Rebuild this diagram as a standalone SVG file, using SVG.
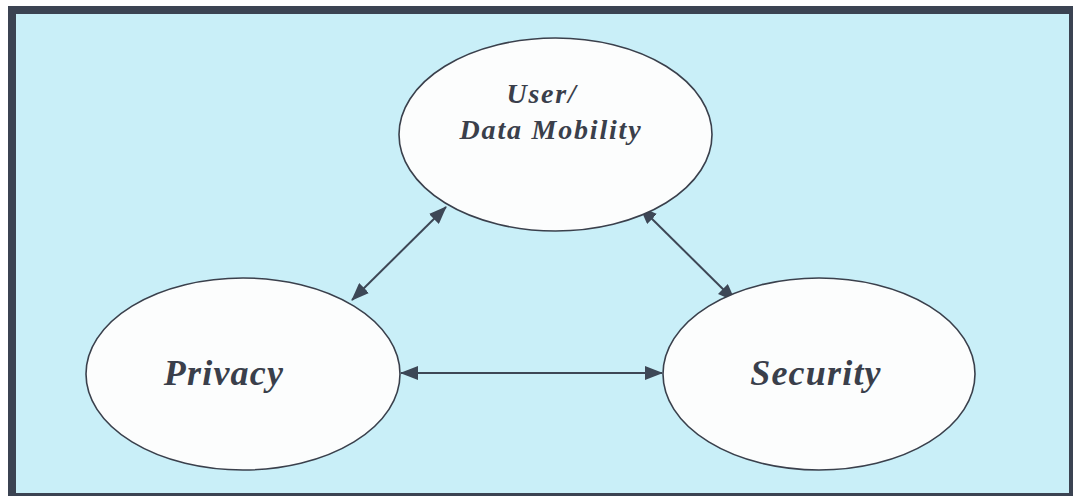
<svg xmlns="http://www.w3.org/2000/svg" width="1075" height="496" viewBox="0 0 1075 496">
  <style>
    .node ellipse { fill: #fcfdfd; stroke: #3a404c; stroke-width: 1.6; }
    .label { font-family: "Liberation Serif", "Times New Roman", serif; font-weight: bold; font-style: italic; fill: #3a3f4b; text-anchor: middle; }
    .conn line { stroke: #3d4756; stroke-width: 2; }
  </style>
  <defs>
    <marker id="head" viewBox="0 0 18 14" refX="17" refY="7" markerWidth="18" markerHeight="14" markerUnits="userSpaceOnUse" orient="auto-start-reverse">
      <path d="M0,0 L18,7 L0,14 Z" fill="#3d4756"/>
    </marker>
  </defs>

  <!-- page and frame -->
  <rect x="0" y="0" width="1075" height="496" fill="#ffffff"/>
  <rect x="8" y="6" width="1065" height="490" fill="#3b4352"/>
  <rect x="16" y="14" width="1053" height="479" fill="#c9eff8"/>

  <!-- connectors -->
  <g id="connectors" class="conn">
    <line x1="401" y1="373" x2="662" y2="373" marker-start="url(#head)" marker-end="url(#head)"/>
    <line x1="352" y1="300" x2="446" y2="207" marker-start="url(#head)" marker-end="url(#head)"/>
    <line x1="640" y1="207" x2="735" y2="301" marker-start="url(#head)" marker-end="url(#head)"/>
  </g>

  <!-- nodes -->
  <g id="node-mobility" class="node">
    <ellipse cx="555.5" cy="134.5" rx="156.5" ry="96.5"/>
    <text class="label" x="542" y="103" font-size="28" letter-spacing="1.8">User/</text>
    <text class="label" x="551" y="139" font-size="28" letter-spacing="1.8">Data Mobility</text>
  </g>
  <g id="node-privacy" class="node">
    <ellipse cx="243" cy="374" rx="157" ry="96"/>
    <text class="label" x="224" y="385" font-size="36" letter-spacing="1.2">Privacy</text>
  </g>
  <g id="node-security" class="node">
    <ellipse cx="819" cy="374" rx="156" ry="96"/>
    <text class="label" x="816" y="385" font-size="36" letter-spacing="1.2">Security</text>
  </g>
</svg>
